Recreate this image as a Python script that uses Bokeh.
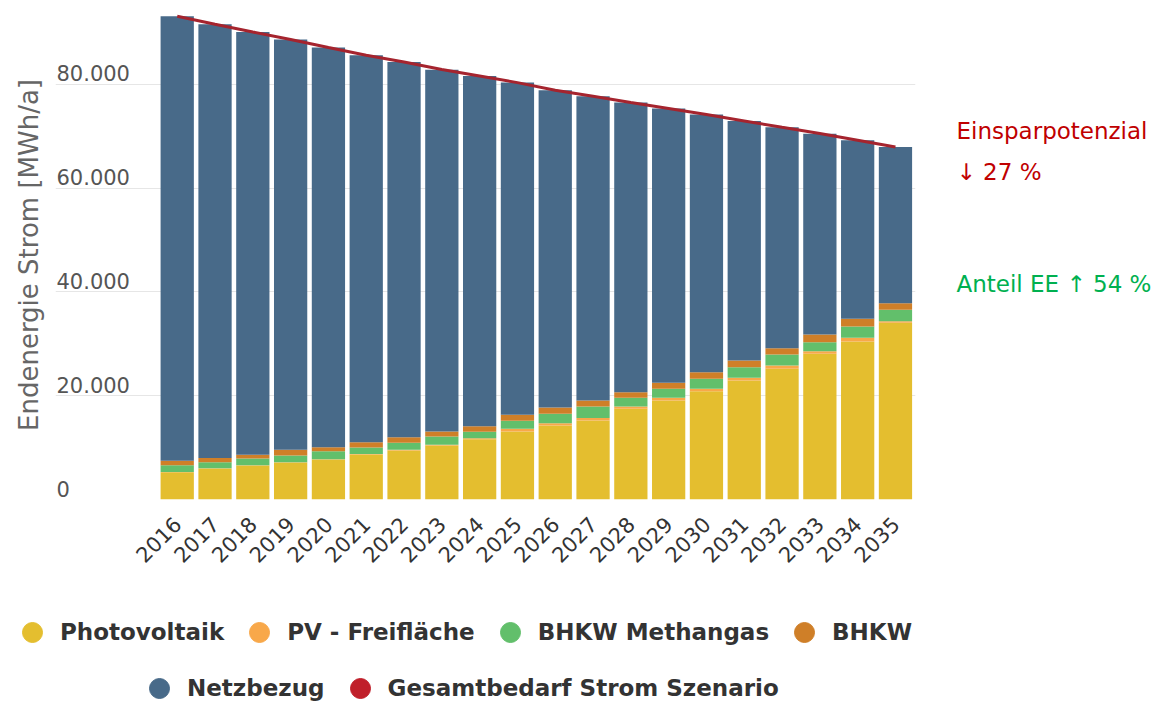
import math
from bokeh.plotting import figure
from bokeh.layouts import row, column
from bokeh.models import (ColumnDataSource, Range1d, FixedTicker, Legend,
                          LegendItem, Label)
from bokeh.embed import file_html
from bokeh.resources import INLINE

# ---------------- data ----------------
years = ["2016", "2017", "2018", "2019", "2020", "2021", "2022", "2023", "2024", "2025",
         "2026", "2027", "2028", "2029", "2030", "2031", "2032", "2033", "2034", "2035"]
photovoltaik = [5260, 5970, 6550, 7130, 7700, 8670, 9440, 10400, 11630, 13100,
                14250, 15220, 17470, 19070, 20860, 22920, 25170, 28060, 30430, 34030]
pv_freiflaeche = [40, 40, 40, 40, 40, 80, 120, 130, 150, 520,
                  440, 480, 440, 520, 460, 520, 640, 500, 710, 310]
bhkw_methangas = [1310, 1170, 1310, 1310, 1540, 1270, 1390, 1600, 1250, 1540,
                  1810, 2210, 1680, 1730, 1930, 2040, 2120, 1730, 2180, 2200]
bhkw = [850, 810, 730, 1120, 790, 1020, 1060, 960, 1060, 1160,
        1210, 1160, 1080, 1160, 1270, 1290, 1210, 1480, 1480, 1270]
netzbezug = [85630, 83550, 81430, 79010, 76990, 74530, 72280, 69720, 67490, 64000,
             61110, 58600, 55790, 52830, 49630, 46150, 42560, 38710, 34400, 30100]
gesamtbedarf = [93080, 91540, 90060, 88600, 87060, 85570, 84280, 82820, 81590, 80310,
                78830, 77670, 76460, 75310, 74150, 72920, 71700, 70490, 69200, 67910]

y_ticks = [0, 20000, 40000, 60000, 80000]
y_tick_labels = ["0", "20.000", "40.000", "60.000", "80.000"]

series_keys = ["photovoltaik", "pv_freiflaeche", "bhkw_methangas", "bhkw", "netzbezug"]
series_names = ["Photovoltaik", "PV - Freifläche", "BHKW Methangas", "BHKW", "Netzbezug"]
line_name = "Gesamtbedarf Strom Szenario"
y_title = "Endenergie Strom [MWh/a]"
note_1 = "Einsparpotenzial"
note_2 = "\u2193 27 %"
note_3 = "Anteil EE \u2191 54 %"

# ---------------- styles ----------------
colors = ["#e4be2f", "#f8a84a", "#62bf6b", "#cf7f28", "#486a89"]
line_color = "#a5242e"
line_legend_color = "#c01f2a"
FONT = "DejaVu Sans"

x_idx = list(range(len(years)))
source = ColumnDataSource(dict(
    x=x_idx,
    photovoltaik=photovoltaik,
    pv_freiflaeche=pv_freiflaeche,
    bhkw_methangas=bhkw_methangas,
    bhkw=bhkw,
    netzbezug=netzbezug,
    gesamtbedarf=gesamtbedarf,
))

# ---------------- main chart ----------------
X0, X1 = -3.22, 19.53
fig = figure(width=920, height=590,
             x_range=Range1d(X0, X1), y_range=Range1d(0, 94200),
             output_backend="svg", toolbar_location=None,
             min_border_left=55, min_border_right=5,
             min_border_top=10, min_border_bottom=91)
fig.outline_line_color = None

fig.vbar_stack(series_keys, x="x", width=0.88, source=source,
               color=colors, line_color=None)
fig.line(x="x", y="gesamtbedarf", source=source,
         line_color=line_color, line_width=3)

fig.xaxis.ticker = FixedTicker(ticks=x_idx)
fig.xaxis.major_label_overrides = {i: y for i, y in enumerate(years)}
fig.xaxis.major_label_orientation = math.pi / 4
fig.xaxis.axis_line_color = None
fig.xaxis.major_tick_line_color = None
fig.xaxis.minor_tick_line_color = None
fig.xaxis.major_label_standoff = 15
fig.xaxis.major_label_text_font = FONT
fig.xaxis.major_label_text_font_size = "21px"
fig.xaxis.major_label_text_color = "#333333"

fig.yaxis.ticker = FixedTicker(ticks=[])
fig.yaxis.axis_line_color = None
fig.yaxis.major_tick_line_color = None
fig.yaxis.minor_tick_line_color = None
fig.yaxis.major_tick_out = 0
fig.yaxis.axis_label = y_title
fig.yaxis.axis_label_standoff = 12
fig.yaxis.axis_label_text_font = FONT
fig.yaxis.axis_label_text_font_size = "26px"
fig.yaxis.axis_label_text_font_style = "normal"
fig.yaxis.axis_label_text_color = "#666666"

fig.xgrid.visible = False
fig.ygrid.ticker = FixedTicker(ticks=y_ticks)
fig.ygrid.grid_line_color = "#e6e6e6"
fig.ygrid.grid_line_width = 1

for t, lbl in zip(y_ticks, y_tick_labels):
    fig.add_layout(Label(x=X0, y=t, text=lbl, text_align="left",
                         text_baseline="alphabetic", x_offset=1, y_offset=11,
                         text_font=FONT, text_font_size="21px",
                         text_color="#555555"))

# ---------------- notes panel (right) ----------------
notes = figure(width=253, height=590, x_range=Range1d(0, 253),
               y_range=Range1d(590, 0), output_backend="svg",
               toolbar_location=None, min_border=0, min_border_left=0,
               min_border_right=0, min_border_top=0, min_border_bottom=0)
notes.axis.visible = False
notes.grid.visible = False
notes.outline_line_color = None
for txt, yy, col in [(note_1, 145, "#c00000"), (note_2, 195, "#c00000"),
                     (note_3, 330, "#00b050")]:
    notes.add_layout(Label(x=36, y=yy, text=txt, text_align="left",
                           text_baseline="alphabetic", text_font=FONT,
                           text_font_size="23px", text_color=col))

# ---------------- legend panel (bottom) ----------------
leg = figure(width=1173, height=114, x_range=Range1d(0, 1173),
             y_range=Range1d(0, 114), output_backend="svg",
             toolbar_location=None, min_border=0, min_border_left=0,
             min_border_right=0, min_border_top=0, min_border_bottom=0)
leg.axis.visible = False
leg.grid.visible = False
leg.outline_line_color = None

# legend sample renderers: one point each, placed outside the visible range
dummies = []
for c in colors + [line_legend_color]:
    dummies.append(leg.scatter(x=[-500], y=[-500], marker="circle", size=20,
                               fill_color=c, line_color=c))

def make_legend(items, loc):
    return Legend(items=items, orientation="horizontal", location=loc,
                  glyph_width=50, glyph_height=50, label_height=50,
                  label_standoff=3, spacing=10, padding=0, margin=0,
                  border_line_color=None, background_fill_alpha=0,
                  label_text_font=FONT, label_text_font_style="bold",
                  label_text_font_size="23px", label_text_color="#333333")

items1 = [LegendItem(label=series_names[i], renderers=[dummies[i]]) for i in range(4)]
items2 = [LegendItem(label=series_names[4], renderers=[dummies[4]]),
          LegendItem(label=line_name, renderers=[dummies[5]])]
leg.add_layout(make_legend(items1, (7, 47)), "center")
leg.add_layout(make_legend(items2, (134, -9)), "center")

p = column(row(fig, notes), leg)

open("out.html", "w").write(file_html(p, INLINE))
